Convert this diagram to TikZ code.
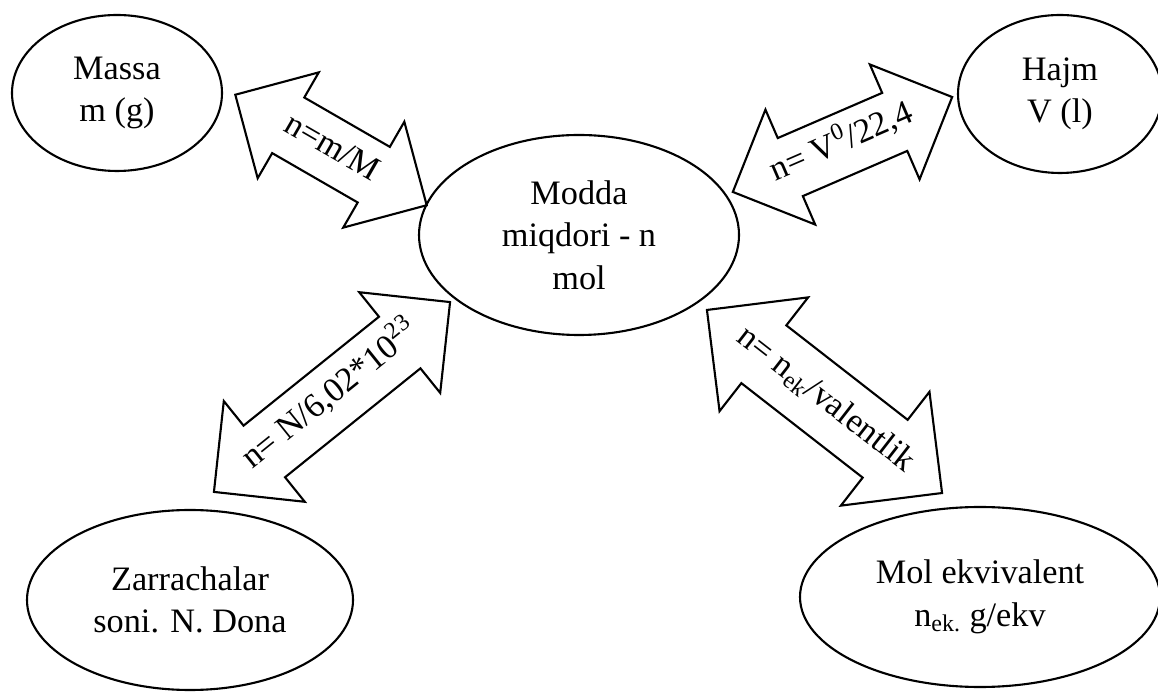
\documentclass[tikz,border=0pt]{standalone}
\usepackage{fontspec}
\setmainfont{Liberation Serif}
\usetikzlibrary{shapes.geometric,shapes.arrows}
\newcommand{\fml}[1]{\makebox[0pt]{#1}}

\begin{document}
\begin{tikzpicture}[
    font={\fontsize{19.5}{24.2}\selectfont},
    base/.style={ellipse,draw,line width=1.2pt,align=center,inner sep=0pt},
    formula/.style={double arrow,draw,line width=1.2pt,
        text height=12pt,text depth=4pt,inner xsep=0pt,inner ysep=0.34cm},
]
    \useasboundingbox (0,0) rectangle (23.16,13.86);

    % Nodes
    \node[base,minimum width=6.4cm,minimum height=4.0cm]  (modda) at (11.58,9.16) {Modda\\miqdori - n\\mol};
    \node[base,minimum width=4.2cm,minimum height=3.12cm] (massa) at (2.34,12.00) {Massa\\m (g)};
    \node[base,minimum width=4.08cm,minimum height=3.16cm] (hajm) at (21.2,11.98) {Hajm\\V (l)};
    \node[base,minimum width=6.52cm,minimum height=3.6cm] (zarracha) at (3.80,1.86) {Zarrachalar\\soni. N. Dona};
    \node[base,minimum width=7.2cm,minimum height=3.6cm]  (ekvival) at (19.6,1.92) {Mol ekvivalent\\n\textsubscript{ek.} g/ekv};

    % Arrows
    \node[formula,rotate=-30,minimum height=4.42cm,double arrow head extend=0.58cm] (fmassa) at (6.62,10.86) {\fml{n=m/M}};
    \node[formula,rotate=23.4,minimum height=4.78cm,double arrow head extend=0.62cm,inner ysep=0.33cm] (fhajm) at (16.85,10.97) {\fml{n= V\textsuperscript{0}/22,4}};
    \node[formula,rotate=38.8,minimum height=6.06cm,double arrow head extend=0.63cm,inner ysep=0.36cm] (fzarracha) at (6.64,5.92) {\fml{n= N/6,02*10\textsuperscript{23}}};
    \node[formula,rotate=-37.9,minimum height=5.96cm,double arrow head extend=0.71cm,inner ysep=0.43cm] (fekvival) at (16.49,5.83) {\fml{n= n\textsubscript{ek}/valentlik}};

\end{tikzpicture}
\end{document}
